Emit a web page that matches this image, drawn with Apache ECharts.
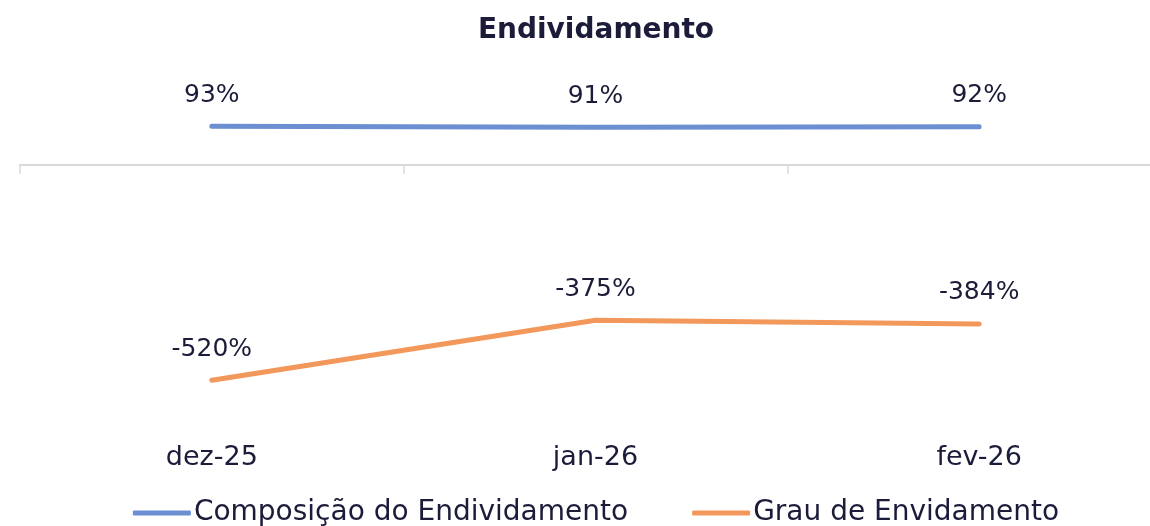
<!DOCTYPE html>
<html>
<head>
<meta charset="utf-8">
<script src="https://cdn.jsdelivr.net/npm/echarts@6/dist/echarts.min.js"></script>
<style>
  html, body { margin: 0; padding: 0; background: #fff; overflow: hidden; }
  /* a área do gráfico passa um pouco da janela à direita, como no original */
  #chart { width: 1192px; height: 526px; }
</style>
</head>
<body>
<div id="chart"></div>
<script>
// dados do gráfico
var meses = ['dez-25', 'jan-26', 'fev-26'];
var composicao = [93, 91, 92];
var grau = [-520, -375, -384];

var fonte = '"DejaVu Sans", "Noto Sans", sans-serif';
var corTexto = '#1b1b3a';

var chart = echarts.init(document.getElementById('chart'));

var rotulo = {
    show: true,
    position: 'top',
    distance: 18,
    formatter: '{c}%',
    color: corTexto,
    fontSize: 25,
    fontWeight: 'normal',
    fontFamily: fonte
};

var option = {
    backgroundColor: '#fff',
    title: {
        text: 'Endividamento',
        left: 'center',
        top: 12,
        textStyle: {
            color: corTexto,
            fontSize: 28,
            fontWeight: 'bold',
            fontFamily: fonte
        }
    },
    legend: {
        left: 'center',
        top: 494,
        itemWidth: 58,
        itemHeight: 5,
        itemGap: 64,
        icon: 'roundRect',
        textStyle: {
            color: corTexto,
            fontSize: 28,
            fontFamily: fonte,
            padding: [0, 0, 0, -2]
        },
        data: ['Composição do Endividamento', 'Grau de Envidamento']
    },
    grid: {
        left: 20,
        right: 21,
        top: 82,
        bottom: 96
    },
    xAxis: [{
        // eixo no zero, só linha e ticks
        type: 'category',
        data: meses,
        axisLine: { onZero: true, lineStyle: { color: '#d9d9d9', width: 2 } },
        axisTick: { show: true, length: 9, lineStyle: { color: '#d9d9d9', width: 1.5 } },
        axisLabel: { show: false }
    }, {
        // eixo de baixo, só os rótulos
        type: 'category',
        position: 'bottom',
        data: meses,
        axisLine: { show: false },
        axisTick: { show: false },
        axisLabel: {
            margin: 14,
            color: corTexto,
            fontSize: 27,
            fontFamily: fonte
        }
    }],
    yAxis: {
        type: 'value',
        min: -640,
        max: 200,
        show: false,
        splitLine: { show: false }
    },
    series: [{
        name: 'Composição do Endividamento',
        type: 'line',
        data: composicao,
        symbol: 'circle',
        symbolSize: 1,
        lineStyle: { color: '#6b8fd0', width: 5, cap: 'round' },
        itemStyle: { color: '#6b8fd0' },
        label: rotulo
    }, {
        name: 'Grau de Envidamento',
        type: 'line',
        data: grau,
        symbol: 'circle',
        symbolSize: 1,
        lineStyle: { color: '#f2985a', width: 5, cap: 'round' },
        itemStyle: { color: '#f2985a' },
        label: rotulo
    }]
};

chart.setOption(option);
</script>
</body>
</html>
